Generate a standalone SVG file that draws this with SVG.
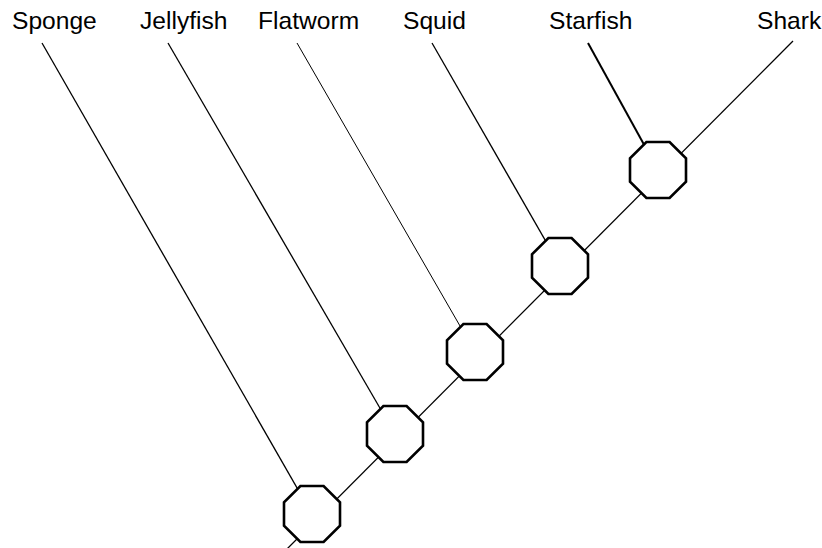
<svg xmlns="http://www.w3.org/2000/svg" width="822" height="548" viewBox="0 0 822 548">
<defs>
<style>
.lbl{font-family:"Liberation Sans",Arial,sans-serif;font-size:24.6px;fill:#000}
.edge{stroke:#000;stroke-width:1.3;fill:none}
.oct{fill:#fff;stroke:#000;stroke-width:2.6;stroke-linejoin:miter}
</style>
<polygon id="octagon" points="-11.6,-28 11.6,-28 28,-11.6 28,11.6 11.6,28 -11.6,28 -28,11.6 -28,-11.6"/>
</defs>
<rect width="822" height="548" fill="#fff"/>
<g id="connectors">
<line class="edge" x1="286" y1="550" x2="793" y2="41"/>
<line class="edge" x1="42" y1="43" x2="312" y2="514"/>
<line class="edge" x1="168" y1="43" x2="395" y2="434"/>
<line class="edge" x1="297" y1="43" x2="475" y2="352" style="stroke-width:1"/>
<line class="edge" x1="432" y1="43" x2="560" y2="266"/>
<line class="edge" x1="588" y1="43" x2="658" y2="170" style="stroke-width:2"/>
</g>
<g id="n1"><use href="#octagon" class="oct" x="312" y="514"/></g>
<g id="n2"><use href="#octagon" class="oct" x="395" y="434"/></g>
<g id="n3"><use href="#octagon" class="oct" x="475" y="352"/></g>
<g id="n4"><use href="#octagon" class="oct" x="560" y="266"/></g>
<g id="n5"><use href="#octagon" class="oct" x="658" y="170"/></g>
<g id="sponge"><text class="lbl" x="12" y="29">Sponge</text></g>
<g id="jellyfish"><text class="lbl" x="140" y="29">Jellyfish</text></g>
<g id="flatworm"><text class="lbl" x="258" y="29">Flatworm</text></g>
<g id="squid"><text class="lbl" x="403" y="29">Squid</text></g>
<g id="starfish"><text class="lbl" x="549" y="29">Starfish</text></g>
<g id="shark"><text class="lbl" x="757" y="29">Shark</text></g>
</svg>
